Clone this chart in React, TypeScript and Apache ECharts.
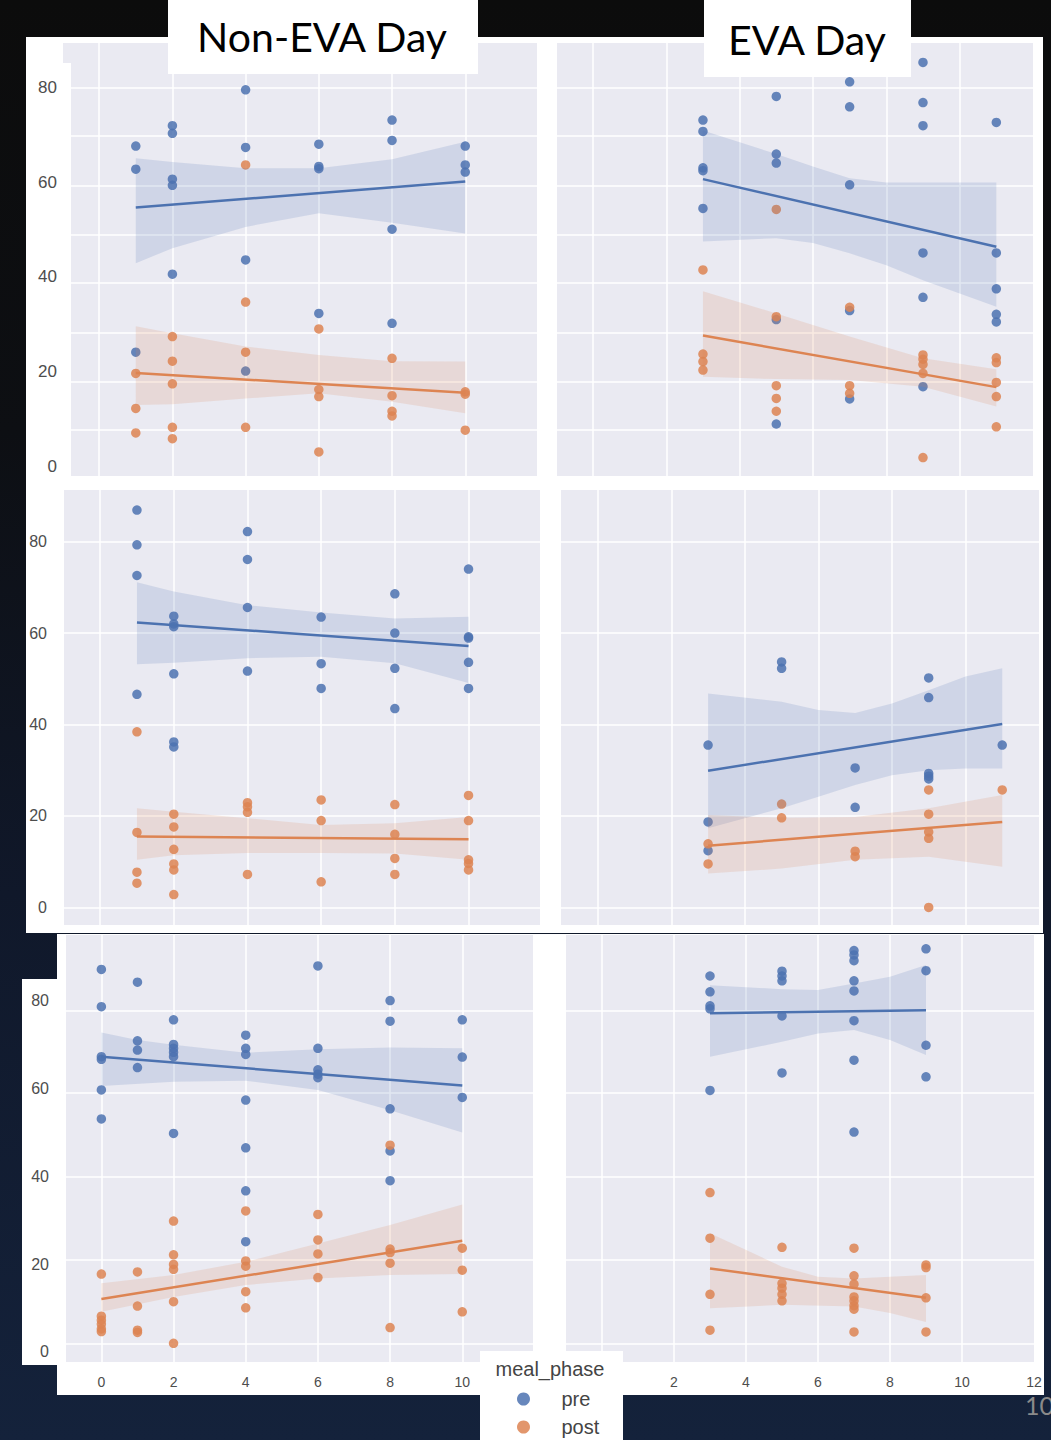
import React, { useEffect, useRef } from "react";
import * as echarts from "echarts";

type Pt = [number, number];
type Band = { upper: Pt[]; lower: Pt[] };

// ---------- Row 1 ----------
const nonEva1Pre: Pt[] = [
  [1, 67.7], [1, 62.8], [1, 24.1],
  [2, 72.0], [2, 70.4], [2, 60.7], [2, 59.4], [2, 40.6],
  [4, 79.6], [4, 67.4], [4, 43.6], [4, 20.1],
  [6, 68.1], [6, 63.4], [6, 62.9], [6, 32.3],
  [8, 73.2], [8, 68.9], [8, 50.1], [8, 30.2],
  [10, 67.7], [10, 63.7], [10, 62.2],
];
const nonEva1Post: Pt[] = [
  [1, 19.6], [1, 12.2], [1, 7.0],
  [2, 27.4], [2, 22.2], [2, 17.4], [2, 8.2], [2, 5.8],
  [4, 63.7], [4, 34.7], [4, 24.1], [4, 8.2],
  [6, 29.0], [6, 16.2], [6, 14.7], [6, 3.0],
  [8, 22.8], [8, 14.9], [8, 11.6], [8, 10.6],
  [10, 15.7], [10, 15.2], [10, 7.6],
];
const nonEva1PreFit: Pt[] = [[1, 54.7], [10, 60.2]];
const nonEva1PostFit: Pt[] = [[1, 19.7], [10, 15.5]];
const nonEva1PreBand: Band = {
  upper: [[1, 65.1], [2, 64.3], [4, 63.0], [6, 63.0], [8, 64.9], [10, 68.6]],
  lower: [[1, 42.9], [2, 46.1], [4, 50.6], [6, 53.5], [8, 51.5], [10, 49.2]],
};
const nonEva1PostBand: Band = {
  upper: [[1, 29.6], [2, 28.1], [4, 25.3], [6, 23.5], [8, 22.2], [10, 22.1]],
  lower: [[1, 12.9], [2, 13.1], [4, 14.3], [6, 15.4], [8, 13.6], [10, 11.2]],
};

const eva1Pre: Pt[] = [
  [3, 73.2], [3, 70.8], [3, 63.1], [3, 62.5], [3, 54.5],
  [5, 78.2], [5, 66.0], [5, 64.1], [5, 31.0], [5, 8.9],
  [7, 81.3], [7, 76.0], [7, 59.5], [7, 32.9], [7, 14.2],
  [9, 85.4], [9, 76.9], [9, 72.0], [9, 45.1], [9, 35.7], [9, 16.8],
  [11, 72.7], [11, 45.1], [11, 37.5], [11, 32.1], [11, 30.5],
];
const eva1Post: Pt[] = [
  [3, 41.5], [3, 23.7], [3, 22.1], [3, 20.3],
  [5, 54.3], [5, 31.6], [5, 17.0], [5, 14.3], [5, 11.6],
  [7, 33.6], [7, 17.0], [7, 15.4],
  [9, 23.5], [9, 22.6], [9, 21.5], [9, 19.6], [9, 1.8],
  [11, 22.9], [11, 21.9], [11, 17.7], [11, 14.7], [11, 8.3],
];
const eva1PreFit: Pt[] = [[3, 60.7], [11, 46.4]];
const eva1PostFit: Pt[] = [[3, 27.6], [11, 16.7]];
const eva1PreBand: Band = {
  upper: [[3, 71.0], [5, 66.0], [6, 63.4], [7, 60.9], [8, 60.0], [9, 60.0], [10, 60.0], [11, 60.0]],
  lower: [[3, 47.5], [5, 48.2], [6, 47.2], [7, 45.0], [8, 42.5], [9, 39.3], [10, 36.5], [11, 33.7]],
};
const eva1PostBand: Band = {
  upper: [[3, 37.0], [5, 32.3], [7, 27.4], [9, 22.8], [11, 20.5]],
  lower: [[3, 18.9], [5, 18.4], [7, 18.2], [9, 16.8], [11, 12.6]],
};

// ---------- Row 2 ----------
const nonEva2Pre: Pt[] = [
  [1, 86.9], [1, 79.3], [1, 72.6], [1, 46.6],
  [2, 63.7], [2, 62.0], [2, 61.4], [2, 51.1], [2, 36.2], [2, 35.1],
  [4, 82.2], [4, 76.1], [4, 65.6], [4, 51.7],
  [6, 63.5], [6, 53.3], [6, 47.9],
  [8, 68.6], [8, 60.0], [8, 52.3], [8, 43.5],
  [10, 74.0], [10, 59.2], [10, 58.9], [10, 53.6], [10, 47.9],
];
const nonEva2Post: Pt[] = [
  [1, 38.4], [1, 16.4], [1, 7.7], [1, 5.3],
  [2, 20.4], [2, 17.6], [2, 12.7], [2, 9.5], [2, 8.2], [2, 2.8],
  [4, 22.9], [4, 22.0], [4, 20.8], [4, 7.2],
  [6, 23.5], [6, 19.0], [6, 5.6],
  [8, 22.5], [8, 16.0], [8, 10.7], [8, 7.2],
  [10, 24.5], [10, 19.0], [10, 10.4], [10, 9.6], [10, 8.2],
];
const nonEva2PreFit: Pt[] = [[1, 62.3], [10, 57.2]];
const nonEva2PostFit: Pt[] = [[1, 15.5], [10, 14.9]];
const nonEva2PreBand: Band = {
  upper: [[1, 71.1], [2, 69.1], [4, 66.1], [6, 64.5], [8, 63.2], [10, 63.6]],
  lower: [[1, 53.2], [2, 53.5], [4, 54.5], [6, 54.8], [8, 53.4], [10, 49.1]],
};
const nonEva2PostBand: Band = {
  upper: [[1, 21.7], [2, 20.9], [4, 19.5], [6, 18.0], [8, 18.4], [10, 19.8]],
  lower: [[1, 10.4], [2, 11.4], [4, 11.9], [6, 11.9], [8, 11.8], [10, 10.4]],
};

const eva2Pre: Pt[] = [
  [3, 35.5], [3, 18.7], [3, 12.4],
  [5, 53.7], [5, 52.3],
  [7, 30.5], [7, 21.9],
  [9, 50.2], [9, 45.9], [9, 29.3], [9, 28.7], [9, 28.1],
  [11, 35.5],
];
const eva2Post: Pt[] = [
  [3, 13.9], [3, 9.5],
  [5, 22.6], [5, 19.6],
  [7, 12.3], [7, 11.1],
  [9, 25.7], [9, 20.4], [9, 16.5], [9, 15.1], [9, 0],
  [11, 25.7],
];
const eva2PreFit: Pt[] = [[3, 29.9], [11, 40.1]];
const eva2PostFit: Pt[] = [[3, 13.5], [11, 18.7]];
const eva2PreBand: Band = {
  upper: [[3, 46.8], [5, 45.0], [6, 43.2], [7, 42.5], [8, 44.6], [9, 47.5], [10, 50.5], [11, 52.3]],
  lower: [[3, 17.3], [5, 21.7], [6, 24.2], [7, 26.8], [8, 28.9], [9, 30.0], [10, 30.4], [11, 30.4]],
};
const eva2PostBand: Band = {
  upper: [[3, 20.2], [5, 19.6], [7, 19.8], [9, 21.7], [11, 24.6]],
  lower: [[3, 7.4], [5, 8.5], [7, 10.4], [9, 11.1], [11, 8.9]],
};

// ---------- Row 3 ----------
const nonEva3Pre: Pt[] = [
  [0, 87.2], [0, 78.7], [0, 67.3], [0, 66.7], [0, 59.7], [0, 53.1],
  [1, 84.3], [1, 70.9], [1, 68.8], [1, 64.8],
  [2, 75.7], [2, 70.1], [2, 69.2], [2, 68.3], [2, 67.3], [2, 49.8],
  [4, 72.2], [4, 69.2], [4, 67.8], [4, 57.4], [4, 46.5], [4, 36.7], [4, 25.1],
  [6, 88.0], [6, 69.2], [6, 64.3], [6, 63.3], [6, 62.5],
  [8, 80.1], [8, 75.4], [8, 55.4], [8, 45.8], [8, 39.0],
  [10, 75.7], [10, 67.2], [10, 58.0],
];
const nonEva3Post: Pt[] = [
  [0, 17.7], [0, 8.1], [0, 7.2], [0, 6.3], [0, 5.2], [0, 4.6],
  [1, 18.2], [1, 10.4], [1, 4.9], [1, 4.4],
  [2, 29.8], [2, 22.1], [2, 19.9], [2, 18.8], [2, 11.4], [2, 1.9],
  [4, 32.1], [4, 20.7], [4, 19.5], [4, 13.7], [4, 10.0],
  [6, 31.3], [6, 25.5], [6, 22.3], [6, 16.9],
  [8, 47.1], [8, 23.4], [8, 22.6], [8, 20.2], [8, 5.5],
  [10, 23.6], [10, 18.6], [10, 9.1],
];
const nonEva3PreFit: Pt[] = [[0, 67.3], [10, 60.7]];
const nonEva3PostFit: Pt[] = [[0, 12.0], [10, 25.3]];
const nonEva3PreBand: Band = {
  upper: [[0, 72.8], [1, 71.1], [2, 70.0], [4, 68.2], [6, 69.0], [8, 69.4], [10, 69.2]],
  lower: [[0, 60.6], [2, 61.6], [4, 61.8], [6, 59.7], [8, 55.1], [10, 50.0]],
};
const nonEva3PostBand: Band = {
  upper: [[0, 15.6], [2, 17.5], [4, 20.5], [6, 24.7], [8, 28.9], [10, 33.6]],
  lower: [[0, 9.1], [2, 12.5], [4, 15.2], [6, 16.7], [8, 17.5], [10, 17.7]],
};

const eva3Pre: Pt[] = [
  [3, 85.7], [3, 82.1], [3, 78.9], [3, 78.2], [3, 59.6],
  [5, 86.8], [5, 85.7], [5, 84.6], [5, 76.6], [5, 63.6],
  [7, 91.5], [7, 90.5], [7, 89.2], [7, 84.6], [7, 82.3], [7, 75.5], [7, 66.5], [7, 50.1],
  [9, 91.9], [9, 86.9], [9, 69.9], [9, 62.7],
];
const eva3Post: Pt[] = [
  [3, 36.3], [3, 25.9], [3, 13.1], [3, 4.9],
  [5, 23.8], [5, 15.6], [5, 14.5], [5, 13.1], [5, 11.6],
  [7, 23.6], [7, 17.3], [7, 15.4], [7, 12.5], [7, 11.6], [7, 10.5], [7, 9.7], [7, 4.5],
  [9, 19.8], [9, 19.2], [9, 12.3], [9, 4.5],
];
const eva3PreFit: Pt[] = [[3, 77.2], [9, 77.9]];
const eva3PostFit: Pt[] = [[3, 19.0], [9, 12.3]];
const eva3PreBand: Band = {
  upper: [[3, 83.6], [5, 82.7], [6, 82.5], [7, 84.0], [8, 85.5], [9, 88.2]],
  lower: [[3, 67.3], [5, 70.7], [6, 72.6], [7, 73.4], [8, 71.1], [9, 67.7]],
};
const eva3PostBand: Band = {
  upper: [[3, 27.0], [5, 19.4], [6, 17.1], [7, 16.7], [8, 17.1], [9, 17.5]],
  lower: [[3, 9.9], [5, 10.7], [7, 10.3], [8, 8.8], [9, 6.8]],
};

// ---------- Ticks ----------
const xGridTicks = [0, 2, 4, 6, 8, 10];
const xLabelsLeft = [0, 2, 4, 6, 8, 10];
const xLabelsRight = [2, 4, 6, 8, 10, 12];
const yTickLabels = [0, 20, 40, 60, 80];
const row1GridLines = [7.6, 17.9, 28.3, 38.7, 49.0, 59.3, 69.9, 80.0];
const row2GridLines = [0, 20, 40, 60, 80];
const row3GridLines = [1.9, 20.9, 39.9, 59.1, 77.7];

const PANEL_TITLES = ["Non-EVA Day", "EVA Day"];
const HUE_TITLE = "meal_phase";
const HUES = ["pre", "post"];
const SLIDE_NUMBER = "10";

const BLUE = "#4c72b0";
const ORANGE = "#dd8452";
const BLUE_BAND = "rgba(76,114,176,0.17)";
const ORANGE_BAND = "rgba(221,132,82,0.17)";
const PLOT_BG = "#eaeaf2";
const LABEL_FONT = "Liberation Sans, Arial, sans-serif";

type Panel = {
  rect: { left: number; top: number; width: number; height: number };
  x: [number, number];
  y: [number, number];
  yGrid: number[];
  yLabelMargin: number | null;
  yLabelSize: number;
  xLabels: number[] | null;
  pre: Pt[];
  post: Pt[];
  preFit: Pt[];
  postFit: Pt[];
  preBand: Band;
  postBand: Band;
};

const panels: Panel[] = [
  {
    rect: { left: 71, top: 43, width: 466, height: 433 },
    x: [-0.77, 11.96], y: [-2.1, 89.5], yGrid: row1GridLines,
    yLabelMargin: 14, yLabelSize: 17, xLabels: null,
    pre: nonEva1Pre, post: nonEva1Post, preFit: nonEva1PreFit, postFit: nonEva1PostFit,
    preBand: nonEva1PreBand, postBand: nonEva1PostBand,
  },
  {
    rect: { left: 557, top: 43, width: 476, height: 433 },
    x: [-0.98, 12], y: [-2.1, 89.5], yGrid: row1GridLines,
    yLabelMargin: null, yLabelSize: 17, xLabels: null,
    pre: eva1Pre, post: eva1Post, preFit: eva1PreFit, postFit: eva1PostFit,
    preBand: eva1PreBand, postBand: eva1PostBand,
  },
  {
    rect: { left: 64, top: 490, width: 476, height: 435 },
    x: [-0.98, 11.94], y: [-3.85, 91.3], yGrid: row2GridLines,
    yLabelMargin: 17, yLabelSize: 16, xLabels: null,
    pre: nonEva2Pre, post: nonEva2Post, preFit: nonEva2PreFit, postFit: nonEva2PostFit,
    preBand: nonEva2PreBand, postBand: nonEva2PostBand,
  },
  {
    rect: { left: 561, top: 490, width: 478, height: 435 },
    x: [-1, 12], y: [-3.85, 91.3], yGrid: row2GridLines,
    yLabelMargin: null, yLabelSize: 16, xLabels: null,
    pre: eva2Pre, post: eva2Post, preFit: eva2PreFit, postFit: eva2PostFit,
    preBand: eva2PreBand, postBand: eva2PostBand,
  },
  {
    rect: { left: 66, top: 935, width: 467, height: 427 },
    x: [-0.98, 11.96], y: [-2.35, 95.05], yGrid: row3GridLines,
    yLabelMargin: 17, yLabelSize: 16, xLabels: xLabelsLeft,
    pre: nonEva3Pre, post: nonEva3Post, preFit: nonEva3PreFit, postFit: nonEva3PostFit,
    preBand: nonEva3PreBand, postBand: nonEva3PostBand,
  },
  {
    rect: { left: 566, top: 935, width: 468, height: 427 },
    x: [-1, 12], y: [-2.35, 95.05], yGrid: row3GridLines,
    yLabelMargin: null, yLabelSize: 16, xLabels: xLabelsRight,
    pre: eva3Pre, post: eva3Post, preFit: eva3PreFit, postFit: eva3PostFit,
    preBand: eva3PreBand, postBand: eva3PostBand,
  },
];

// Confidence band drawn as one polygon through the axis scales
function bandSeries(i: number, band: Band, fill: string) {
  return {
    type: "custom",
    xAxisIndex: i,
    yAxisIndex: i,
    silent: true,
    z: 3,
    data: [band.upper[0]],
    renderItem: (_params: any, api: any) => {
      const pts = band.upper
        .map((p) => api.coord(p))
        .concat(band.lower.slice().reverse().map((p) => api.coord(p)));
      return { type: "polygon", shape: { points: pts }, style: { fill } };
    },
  };
}

function buildOption() {
  const grid: any[] = [];
  const xAxis: any[] = [];
  const yAxis: any[] = [];
  const series: any[] = [];
  const split = { show: true, lineStyle: { color: "#ffffff", width: 1.5 } };

  panels.forEach((p, i) => {
    grid.push({ ...p.rect, show: true, backgroundColor: PLOT_BG, borderWidth: 0 });
    xAxis.push({
      type: "value",
      gridIndex: i,
      min: p.x[0],
      max: p.x[1],
      axisLine: { show: false },
      axisTick: { show: false, customValues: xGridTicks },
      splitLine: split,
      axisLabel: p.xLabels
        ? { show: true, customValues: p.xLabels, margin: 13, fontSize: 14, color: "#4d4d4d", fontFamily: LABEL_FONT }
        : { show: false },
    });
    yAxis.push({
      type: "value",
      gridIndex: i,
      min: p.y[0],
      max: p.y[1],
      axisLine: { show: false },
      axisTick: { show: false, customValues: p.yGrid },
      splitLine: split,
      axisLabel:
        p.yLabelMargin !== null
          ? {
              show: true,
              customValues: yTickLabels,
              margin: p.yLabelMargin,
              fontSize: p.yLabelSize,
              color: "#4d4d4d",
              fontFamily: LABEL_FONT,
            }
          : { show: false },
    });

    series.push(
      {
        type: "scatter", name: HUES[0], xAxisIndex: i, yAxisIndex: i, z: 2,
        symbol: "circle", symbolSize: 9.5, data: p.pre,
        itemStyle: { color: BLUE, opacity: 0.85 },
      },
      {
        type: "scatter", name: HUES[1], xAxisIndex: i, yAxisIndex: i, z: 2,
        symbol: "circle", symbolSize: 9.5, data: p.post,
        itemStyle: { color: ORANGE, opacity: 0.85 },
      },
      bandSeries(i, p.preBand, BLUE_BAND),
      bandSeries(i, p.postBand, ORANGE_BAND),
      {
        type: "line", xAxisIndex: i, yAxisIndex: i, z: 4, silent: true,
        showSymbol: false, data: p.preFit,
        lineStyle: { color: BLUE, width: 2.5 },
      },
      {
        type: "line", xAxisIndex: i, yAxisIndex: i, z: 4, silent: true,
        showSymbol: false, data: p.postFit,
        lineStyle: { color: ORANGE, width: 2.5 },
      }
    );
  });

  const graphic: any[] = [
    // white frames behind the panels
    { type: "rect", z: -10, silent: true, shape: { x: 26, y: 37, width: 1017, height: 896 }, style: { fill: "#ffffff" } },
    { type: "rect", z: -10, silent: true, shape: { x: 57, y: 934, width: 987, height: 461 }, style: { fill: "#ffffff" } },
    { type: "rect", z: -10, silent: true, shape: { x: 22, y: 979, width: 36, height: 386 }, style: { fill: "#ffffff" } },
    { type: "rect", z: -10, silent: true, shape: { x: 63, y: 43, width: 8, height: 20 }, style: { fill: PLOT_BG } },
    // column headers
    { type: "rect", z: 20, silent: true, shape: { x: 168, y: 0, width: 310, height: 74 }, style: { fill: "#ffffff" } },
    {
      type: "text", z: 21, silent: true, x: 322, y: 36,
      style: {
        text: PANEL_TITLES[0], fill: "#000000", fontSize: 41, fontFamily: "Lato",
        align: "center", verticalAlign: "middle", textAlign: "center", textVerticalAlign: "middle",
      },
    },
    { type: "rect", z: 20, silent: true, shape: { x: 704, y: 0, width: 207, height: 77 }, style: { fill: "#ffffff" } },
    {
      type: "text", z: 21, silent: true, x: 807, y: 39,
      style: {
        text: PANEL_TITLES[1], fill: "#000000", fontSize: 41, fontFamily: "Lato",
        align: "center", verticalAlign: "middle", textAlign: "center", textVerticalAlign: "middle",
      },
    },
    // legend box and its title
    { type: "rect", z: 20, silent: true, shape: { x: 480, y: 1351, width: 143, height: 89 }, style: { fill: "#ffffff" } },
    {
      type: "text", z: 21, silent: true, x: 550, y: 1369,
      style: {
        text: HUE_TITLE, fill: "#444444", fontSize: 20, fontFamily: LABEL_FONT,
        align: "center", verticalAlign: "middle", textAlign: "center", textVerticalAlign: "middle",
      },
    },
    // slide number, running off the right edge of the slide
    {
      type: "text", z: 21, silent: true, x: 1025, y: 1405,
      style: {
        text: SLIDE_NUMBER, fill: "#8a8a8a", fontSize: 25, fontFamily: "Lato",
        align: "left", verticalAlign: "middle", textAlign: "left", textVerticalAlign: "middle",
      },
    },
  ];

  return {
    animation: false,
    backgroundColor: "transparent",
    grid,
    xAxis,
    yAxis,
    series,
    graphic,
    legend: {
      data: HUES,
      orient: "vertical",
      left: 517,
      top: 1389,
      padding: 0,
      itemWidth: 40,
      itemHeight: 13,
      itemGap: 8,
      icon: "circle",
      selectedMode: false,
      z: 30,
      textStyle: { fontSize: 20, color: "#444444", fontFamily: LABEL_FONT, padding: [0, 0, 0, 13] },
    },
  };
}

export default function App() {
  const ref = useRef<HTMLDivElement>(null);

  useEffect(() => {
    document.body.style.margin = "0";
    if (!ref.current) return;
    const chart = echarts.init(ref.current, undefined, { renderer: "svg" });
    chart.setOption(buildOption() as any);
    return () => chart.dispose();
  }, []);

  return (
    <div
      ref={ref}
      style={{
        width: 1051,
        height: 1440,
        background: "linear-gradient(180deg, #0c0c0c 0%, #0d0f13 30%, #10182a 62%, #14223b 100%)",
      }}
    />
  );
}
